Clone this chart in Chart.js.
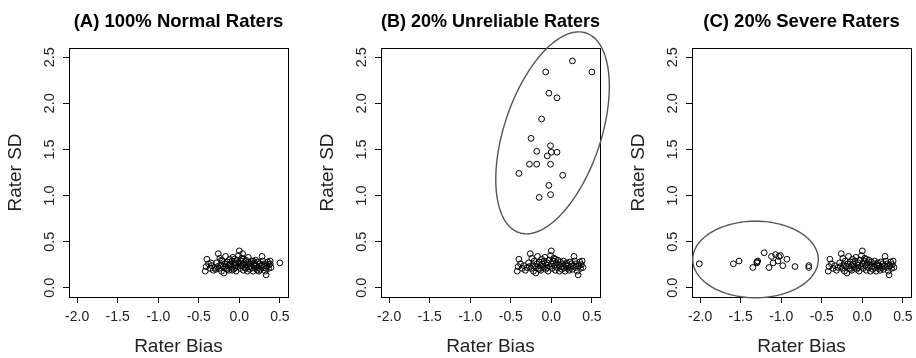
<!DOCTYPE html>
<html>
<head>
<meta charset="utf-8">
<script src="https://cdn.jsdelivr.net/npm/chart.js@4.4.1/dist/chart.umd.min.js"></script>
<style>
  html, body { margin: 0; padding: 0; background: #fff; overflow: hidden; }
  #wrap { position: relative; width: 916px; height: 358px; overflow: hidden; }
  canvas { position: absolute; top: 0; }
</style>
</head>
<body>
<div id="wrap">
  <canvas id="panelA" width="300" height="358" style="left:0px"></canvas>
  <canvas id="panelB" width="300" height="358" style="left:312px"></canvas>
  <canvas id="panelC" width="300" height="358" style="left:623px"></canvas>
</div>
<script>
// axis ticks
const xTicks = [-2.0, -1.5, -1.0, -0.5, 0.0, 0.5];
const yTicks = [0.0, 0.5, 1.0, 1.5, 2.0, 2.5];
const xRange = [-2.1, 0.6];
const yRange = [-0.1, 2.6];

const panelTitles = ["(A) 100% Normal Raters", "(B) 20% Unreliable Raters", "(C) 20% Severe Raters"];

// normal raters shared by all three panels
const normalBias = [-0.42, -0.41, -0.40, -0.38, -0.36, -0.34, -0.32, -0.30, -0.28, -0.26,
  -0.25, -0.24, -0.23, -0.22, -0.21, -0.20, -0.19, -0.18, -0.17, -0.16,
  -0.15, -0.14, -0.13, -0.12, -0.11, -0.10, -0.09, -0.08, -0.07, -0.06,
  -0.05, -0.04, -0.03, -0.02, -0.01, 0.00, 0.00, 0.01, 0.02, 0.03,
  0.04, 0.05, 0.06, 0.07, 0.08, 0.09, 0.10, 0.11, 0.12, 0.13,
  0.14, 0.15, 0.16, 0.17, 0.18, 0.19, 0.20, 0.21, 0.22, 0.23,
  0.24, 0.25, 0.26, 0.27, 0.28, 0.29, 0.30, 0.31, 0.32, 0.33,
  0.34, 0.35, 0.36, 0.37, 0.38, 0.39, -0.27, -0.05, 0.05, -0.15];
const normalSD = [0.18, 0.23, 0.31, 0.26, 0.21, 0.24, 0.19, 0.22, 0.27, 0.37,
  0.21, 0.32, 0.25, 0.18, 0.29, 0.23, 0.16, 0.26, 0.34, 0.21,
  0.28, 0.24, 0.19, 0.31, 0.26, 0.22, 0.29, 0.33, 0.20, 0.25,
  0.27, 0.18, 0.30, 0.23, 0.35, 0.40, 0.26, 0.21, 0.29, 0.32,
  0.24, 0.19, 0.27, 0.22, 0.30, 0.25, 0.18, 0.28, 0.23, 0.20,
  0.26, 0.29, 0.22, 0.18, 0.25, 0.27, 0.21, 0.24, 0.19, 0.28,
  0.22, 0.26, 0.20, 0.24, 0.34, 0.29, 0.22, 0.26, 0.18, 0.14,
  0.24, 0.28, 0.21, 0.25, 0.29, 0.22, 0.23, 0.22, 0.31, 0.20];

// the remaining 20% of normal raters in panel A
const extraBias = [0.50, -0.35, -0.29, -0.22, -0.18, -0.12, -0.09, -0.06, -0.02, 0.02,
  0.04, 0.08, 0.11, 0.13, 0.17, 0.20, 0.24, 0.28, 0.33, 0.38];
const extraSD = [0.27, 0.27, 0.20, 0.30, 0.22, 0.25, 0.19, 0.31, 0.27, 0.24,
  0.37, 0.21, 0.33, 0.26, 0.29, 0.30, 0.18, 0.25, 0.21, 0.26];

const unreliableBias = [0.26, 0.50, -0.07, -0.03, 0.07, -0.12, -0.25, -0.01, -0.18, 0.00,
  0.07, -0.05, -0.27, -0.18, -0.01, -0.40, 0.14, -0.03, -0.01, -0.15];
const unreliableSD = [2.46, 2.34, 2.34, 2.11, 2.06, 1.83, 1.62, 1.54, 1.48, 1.47,
  1.47, 1.43, 1.34, 1.34, 1.34, 1.24, 1.22, 1.11, 1.01, 0.98];

const severeBias = [-2.01, -1.59, -1.52, -1.35, -1.30, -1.29, -1.21, -1.15, -1.12, -1.07,
  -1.03, -1.10, -1.04, -1.01, -0.93, -0.98, -0.83, -0.66, -0.66, -1.30];
const severeSD = [0.26, 0.26, 0.29, 0.22, 0.27, 0.29, 0.38, 0.22, 0.34, 0.36,
  0.34, 0.27, 0.29, 0.35, 0.31, 0.24, 0.23, 0.24, 0.22, 0.28];

// ellipses: centre, spread along each axis, correlation
const ellipseB = {center: [0.015, 1.68], spread: [0.70, 1.095], corr: 0.46};
const ellipseC = {center: [-1.317, 0.307], spread: [0.774, 0.415], corr: 0};

const fontFamily = "'Liberation Sans', Arial, Helvetica, sans-serif";

function toPoints(xs, ys) {
  return xs.map((v, i) => ({x: v, y: ys[i]}));
}

function makePanel(id, title, points, ellipse) {
  const frame = {
    id: "frame",
    afterDatasetsDraw(chart) {
      const {ctx, chartArea: a, scales: {x, y}} = chart;
      ctx.save();
      ctx.strokeStyle = "#000";
      ctx.lineWidth = 1;
      ctx.strokeRect(Math.round(a.left) + 0.5, Math.round(a.top) + 0.5, Math.round(a.right - a.left), Math.round(a.bottom - a.top));
      if (ellipse) {
        const k = Math.sqrt(1 - ellipse.corr * ellipse.corr);
        ctx.beginPath();
        for (let i = 0; i <= 160; i++) {
          const t = i / 160 * Math.PI * 2;
          const vx = ellipse.center[0] + ellipse.spread[0] * Math.cos(t);
          const vy = ellipse.center[1] + ellipse.spread[1] * (ellipse.corr * Math.cos(t) + k * Math.sin(t));
          const px = x.getPixelForValue(vx), py = y.getPixelForValue(vy);
          if (i === 0) ctx.moveTo(px, py); else ctx.lineTo(px, py);
        }
        ctx.strokeStyle = "#555";
        ctx.lineWidth = 1.4;
        ctx.stroke();
      }
      ctx.restore();
    }
  };

  new Chart(document.getElementById(id), {
    type: "scatter",
    data: {datasets: [{data: points, pointStyle: "circle", pointRadius: 2.9, pointBorderWidth: 1,
      borderColor: "#000", backgroundColor: "rgba(0,0,0,0)", pointHoverRadius: 2.9}]},
    options: {
      responsive: false,
      animation: false,
      events: [],
      layout: {padding: {left: 0, right: 12, top: 0, bottom: 0}},
      plugins: {
        legend: {display: false},
        tooltip: {enabled: false},
        title: {display: true, text: title, fullSize: false, color: "#000",
          font: {family: fontFamily, size: 18.5, weight: "bold"}, padding: {top: 11, bottom: 14.8}}
      },
      scales: {
        x: {
          type: "linear", min: xRange[0], max: xRange[1],
          afterBuildTicks: s => { s.ticks = xTicks.map(v => ({value: v})); },
          afterFit: s => { s.height = 61; },
          border: {display: false},
          grid: {drawOnChartArea: false, drawTicks: true, tickLength: 6, tickColor: "#000", tickWidth: 1},
          ticks: {color: "#222", padding: 6, maxRotation: 0, autoSkip: false,
            font: {family: fontFamily, size: 14}, callback: v => v.toFixed(1)},
          title: {display: true, text: "Rater Bias", color: "#222", padding: {top: 0, bottom: 0},
            font: {family: fontFamily, size: 19}}
        },
        y: {
          type: "linear", min: yRange[0], max: yRange[1],
          afterBuildTicks: s => { s.ticks = yTicks.map(v => ({value: v})); },
          afterFit: s => { s.width = 69; },
          border: {display: false},
          grid: {drawOnChartArea: false, drawTicks: true, tickLength: 6, tickColor: "#000", tickWidth: 1},
          ticks: {color: "#222", padding: 3, minRotation: 90, maxRotation: 90, crossAlign: "center", autoSkip: false,
            font: {family: fontFamily, size: 14.5}, callback: v => v.toFixed(1)},
          title: {display: true, text: "Rater SD", color: "#222", padding: {top: 4.6, bottom: 0},
            font: {family: fontFamily, size: 19}}
        }
      }
    },
    plugins: [frame]
  });
}

const normalPoints = toPoints(normalBias, normalSD);
makePanel("panelA", panelTitles[0], normalPoints.concat(toPoints(extraBias, extraSD)), null);
makePanel("panelB", panelTitles[1], normalPoints.concat(toPoints(unreliableBias, unreliableSD)), ellipseB);
makePanel("panelC", panelTitles[2], normalPoints.concat(toPoints(severeBias, severeSD)), ellipseC);
</script>
</body>
</html>
